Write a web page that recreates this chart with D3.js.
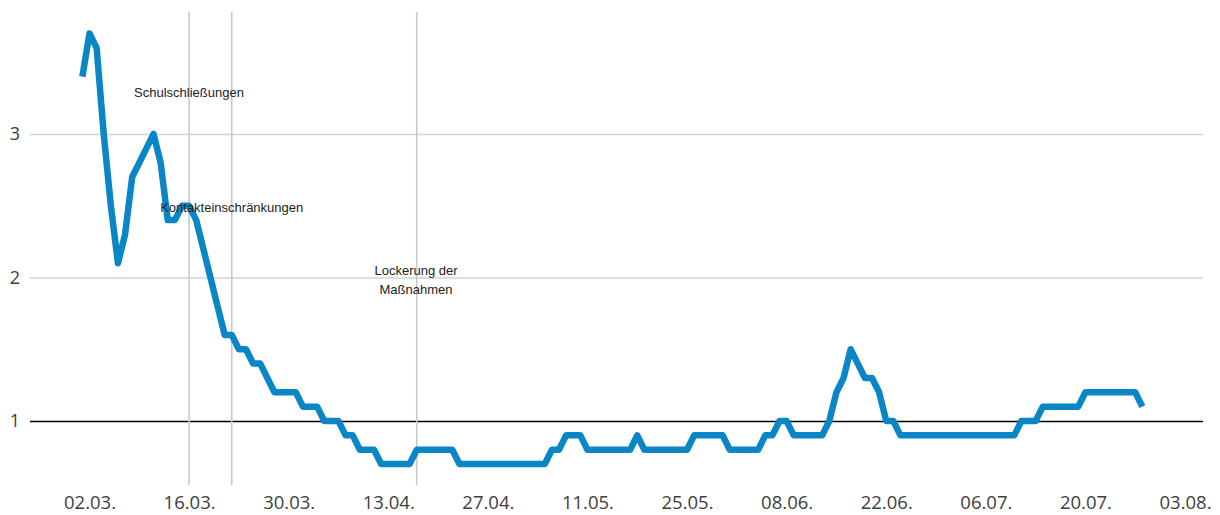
<!DOCTYPE html>
<html>
<head>
<meta charset="utf-8">
<script src="https://cdn.jsdelivr.net/npm/d3@7"></script>
<style>
  html, body { margin: 0; padding: 0; background: #fff; }
  svg { display: block; }
</style>
</head>
<body>
<svg id="chart" width="1220" height="515"></svg>
<script>
// ---- data (R value, daily, 2020) ----
const marchValues = [3.4, 3.7, 3.6, 3.0, 2.5, 2.1, 2.3, 2.7, 2.8, 2.9, 3.0, 2.8, 2.4, 2.4, 2.5, 2.5,
  2.4, 2.2, 2.0, 1.8, 1.6, 1.6, 1.5, 1.5, 1.4, 1.4, 1.3, 1.2, 1.2, 1.2, 1.2];
const aprilValues = [1.1, 1.1, 1.1, 1.0, 1.0, 1.0, 0.9, 0.9, 0.8, 0.8, 0.8, 0.7, 0.7, 0.7, 0.7, 0.7,
  0.8, 0.8, 0.8, 0.8, 0.8, 0.8, 0.7, 0.7, 0.7, 0.7, 0.7, 0.7, 0.7, 0.7];
const mayValues = [0.7, 0.7, 0.7, 0.7, 0.7, 0.8, 0.8, 0.9, 0.9, 0.9, 0.8, 0.8, 0.8, 0.8, 0.8, 0.8,
  0.8, 0.9, 0.8, 0.8, 0.8, 0.8, 0.8, 0.8, 0.8, 0.9, 0.9, 0.9, 0.9, 0.9, 0.8];
const juneValues = [0.8, 0.8, 0.8, 0.8, 0.9, 0.9, 1.0, 1.0, 0.9, 0.9, 0.9, 0.9, 0.9, 1.0, 1.2, 1.3,
  1.5, 1.4, 1.3, 1.3, 1.2, 1.0, 1.0, 0.9, 0.9, 0.9, 0.9, 0.9, 0.9, 0.9];
const julyValues = [0.9, 0.9, 0.9, 0.9, 0.9, 0.9, 0.9, 0.9, 0.9, 0.9, 1.0, 1.0, 1.0, 1.1, 1.1, 1.1,
  1.1, 1.1, 1.1, 1.2, 1.2, 1.2, 1.2, 1.2, 1.2, 1.2, 1.2, 1.1];
const months = [
  { month: 3, values: marchValues },
  { month: 4, values: aprilValues },
  { month: 5, values: mayValues },
  { month: 6, values: juneValues },
  { month: 7, values: julyValues }
];
const xTickLabels = ["02.03.", "16.03.", "30.03.", "13.04.", "27.04.", "11.05.", "25.05.",
  "08.06.", "22.06.", "06.07.", "20.07.", "03.08."];
const yTickValues = [1, 2, 3];
const eventDates = ["16.03.", "22.03.", "17.04."];
const eventLabels = [["Schulschließungen"], ["Kontakteinschränkungen"], ["Lockerung der", "Maßnahmen"]];

// ---- helpers ----
const parseLabel = s => { const [d, m] = s.split("."); return new Date(2020, +m - 1, +d); };
const data = [];
months.forEach(m => m.values.forEach((v, i) => data.push({ date: new Date(2020, m.month - 1, i + 1), value: v })));

const svg = d3.select("#chart");
const plotLeft = 30, plotRight = 1203, plotTop = 12, plotBottom = 485;

const x = d3.scaleTime()
  .domain([parseLabel(xTickLabels[0]), parseLabel(xTickLabels[xTickLabels.length - 1])])
  .range([89.5, 1185]);
const y = d3.scaleLinear().domain([1, 3]).range([421, 134]);

// y gridlines + labels
const yAxis = d3.axisLeft(y)
  .tickValues(yTickValues)
  .tickSize(-(plotRight - plotLeft))
  .tickPadding(10)
  .tickFormat(d3.format("d"));
const gy = svg.append("g").attr("transform", `translate(${plotLeft},0)`).call(yAxis);
gy.select(".domain").remove();
gy.selectAll(".tick line")
  .attr("stroke", d => d === 1 ? "#000" : "#d3d3d3")
  .attr("stroke-width", d => d === 1 ? 1.3 : 1.6);
gy.selectAll(".tick text")
  .attr("font-family", "'Open Sans', sans-serif")
  .attr("font-size", 18)
  .attr("fill", "#404040");

// event vertical lines
const events = eventDates.map((d, i) => ({ date: parseLabel(d), lines: eventLabels[i] }));
svg.append("g").selectAll("line").data(events).join("line")
  .attr("x1", d => x(d.date)).attr("x2", d => x(d.date))
  .attr("y1", plotTop).attr("y2", plotBottom)
  .attr("stroke", "#c8c8c8").attr("stroke-width", 1.6);

// x axis labels
const xAxis = d3.axisBottom(x)
  .tickValues(xTickLabels.map(parseLabel))
  .tickSize(0)
  .tickFormat((d, i) => xTickLabels[i]);
const gx = svg.append("g").attr("transform", `translate(0,${plotBottom})`).call(xAxis);
gx.select(".domain").remove();
gx.selectAll(".tick text")
  .attr("y", 24).attr("dy", 0)
  .attr("font-family", "'Open Sans', sans-serif")
  .attr("font-size", 18.5)
  .attr("fill", "#404040");

// line
const line = d3.line().x(d => x(d.date)).y(d => y(d.value));
svg.append("path").datum(data)
  .attr("d", line)
  .attr("fill", "none")
  .attr("stroke", "#0a86c6")
  .attr("stroke-width", 6.5)
  .attr("stroke-linejoin", "round");

// annotations
const annY = [[92], [207], [270, 289]];
const annX = [189, 231.7, 416];
events.forEach((e, i) => {
  e.lines.forEach((t, j) => {
    svg.append("text")
      .attr("x", annX[i]).attr("y", annY[i][j] + 4.5)
      .attr("text-anchor", "middle")
      .attr("font-family", "'Liberation Sans', Arial, sans-serif")
      .attr("font-size", 13)
      .attr("fill", "#222")
      .text(t);
  });
});
</script>
</body>
</html>
